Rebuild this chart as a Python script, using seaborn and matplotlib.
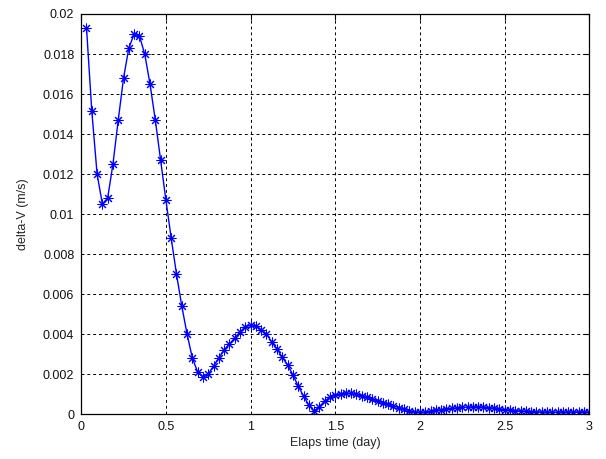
import numpy as np
import pandas as pd
import matplotlib
matplotlib.use("Agg")
import matplotlib.pyplot as plt
import seaborn as sns

# ---- data ----
step_day = 1 / 32
time_day = np.arange(1, 97) * step_day  # sampling grid, 1/32 day to 3 days
delta_v = [
    0.01932, 0.01515, 0.01200, 0.01050, 0.01080, 0.01250, 0.01470, 0.01680,
    0.01830, 0.01900, 0.01890, 0.01800, 0.01650, 0.01470, 0.01270, 0.01070,
    0.00880, 0.00700, 0.00540, 0.00400, 0.00280, 0.00210, 0.00187, 0.00200,
    0.00240, 0.00280, 0.00320, 0.00350, 0.00380, 0.00410, 0.00437, 0.00443,
    0.00440, 0.00420, 0.00400, 0.00360, 0.00325, 0.00283, 0.00245, 0.00195,
    0.00140, 0.00090, 0.00045, 0.00015, 0.00037, 0.00065, 0.00083, 0.00095,
    0.00102, 0.00104, 0.00103, 0.00098, 0.00090, 0.00083, 0.00074, 0.00065,
    0.00057, 0.00048, 0.00040, 0.00032, 0.00024, 0.00017, 0.00012, 0.00008,
    0.00010, 0.00014, 0.00018, 0.00022, 0.00025, 0.00028, 0.00031, 0.00033,
    0.00035, 0.00036, 0.00036, 0.00035, 0.00032, 0.00029, 0.00026, 0.00022,
    0.00020, 0.00017, 0.00015, 0.00013, 0.00012, 0.00011, 0.00010, 0.00010,
    0.00009, 0.00010, 0.00011, 0.00010, 0.00010, 0.00011, 0.00010, 0.00010,
]
xtick_values = [0, 0.5, 1, 1.5, 2, 2.5, 3]
xtick_labels = ["0", "0.5", "1", "1.5", "2", "2.5", "3"]
ytick_values = [0, 0.002, 0.004, 0.006, 0.008, 0.01, 0.012, 0.014, 0.016, 0.018, 0.02]
ytick_labels = ["0", "0.002", "0.004", "0.006", "0.008", "0.01", "0.012",
                "0.014", "0.016", "0.018", "0.02"]

df = pd.DataFrame({"t": time_day, "dv": delta_v})

sns.set_style("white")
plt.rcParams["font.family"] = ["Liberation Sans", "DejaVu Sans"]

fig = plt.figure(figsize=(6.06, 4.59), dpi=100)
ax = fig.add_axes([0.134, 0.098, 0.8385, 0.8715])

sns.lineplot(data=df, x="t", y="dv", ax=ax, color="#0000ff", linewidth=1.0,
             marker=(8, 2, 0), markersize=7, markeredgecolor="#0000ff",
             markeredgewidth=0.75, markerfacecolor="#0000ff")

ax.set_xlim(0, 3)
ax.set_ylim(0, 0.02)
ax.set_xticks(xtick_values)
ax.set_xticklabels(xtick_labels)
ax.set_yticks(ytick_values)
ax.set_yticklabels(ytick_labels)

ax.grid(True, color="black", linestyle=(0, (3, 3)), linewidth=0.7)
ax.set_axisbelow(True)
for s in ax.spines.values():
    s.set_visible(True)
    s.set_color("black")
    s.set_linewidth(0.9)

ax.tick_params(direction="in", length=4, width=0.8, top=True, right=True,
               labelsize=9, colors="black", pad=5)
for lbl in ax.get_xticklabels() + ax.get_yticklabels():
    lbl.set_color("#111111")

ax.set_xlabel("Elaps time (day)", fontsize=9, labelpad=3)
ax.set_ylabel("delta-V (m/s)", fontsize=9, labelpad=10)

fig.savefig("out.png", dpi=100, facecolor="white")
